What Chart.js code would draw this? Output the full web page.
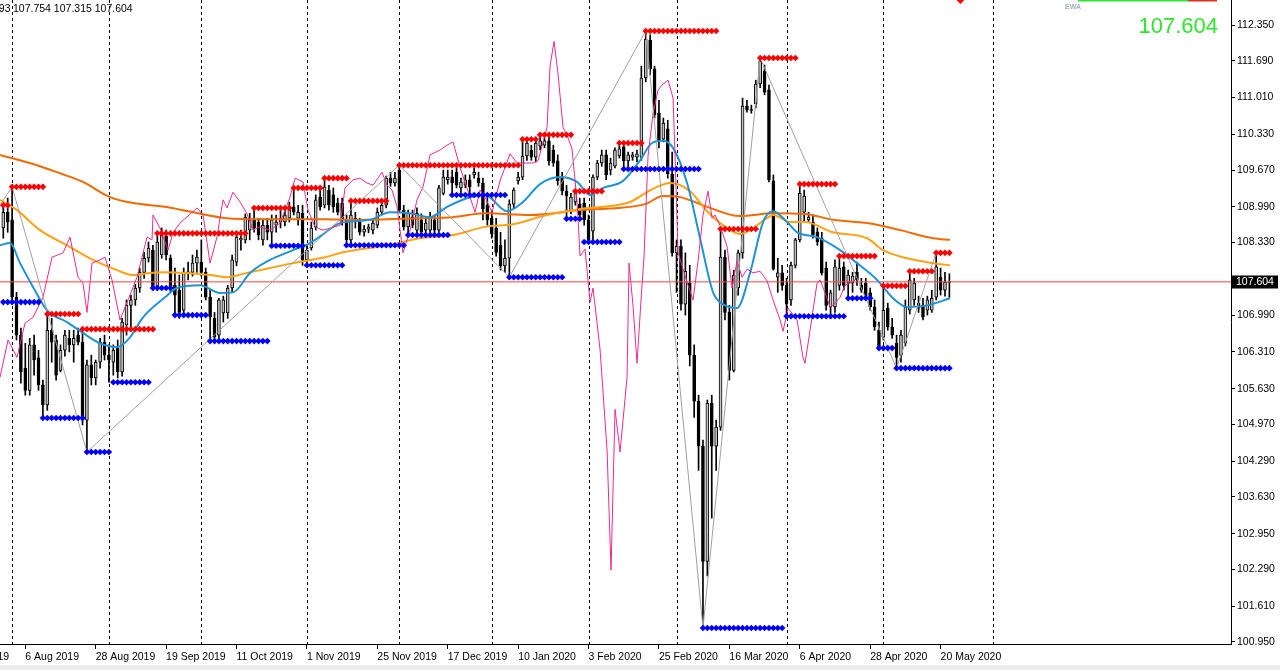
<!DOCTYPE html>
<html><head><meta charset="utf-8">
<script src="https://cdn.jsdelivr.net/npm/chart.js"></script>
<style>html,body{margin:0;padding:0;background:#fff;overflow:hidden}canvas{display:block}</style>
</head><body><canvas id="c" width="1280" height="670"></canvas>
<script>
// ---- candles (daily, bar index 0 = 30 Jul 2019 ... 215 = 22 May 2020)
const open = [
108.60,108.89,108.75,107.32,106.62,106.01,105.60,106.44,106.20,105.70,
105.33,106.71,106.53,105.97,106.34,106.56,106.44,106.62,106.49,105.05,
106.07,105.83,106.12,106.49,106.25,106.12,106.38,105.94,106.81,107.17,
107.27,107.49,107.78,108.04,108.19,107.49,108.10,108.45,108.04,107.54,
107.45,107.08,107.77,107.78,107.95,107.97,107.78,107.32,106.93,106.62,
107.03,107.03,107.49,107.97,108.38,108.38,108.56,108.75,108.71,108.38,
108.65,108.52,108.65,108.71,108.71,108.78,108.99,108.78,108.87,108.01,
108.23,108.62,109.17,109.02,109.30,109.21,109.06,109.06,108.75,108.38,
108.78,108.71,108.52,108.58,108.56,108.65,108.89,109.02,109.52,109.43,
109.67,108.93,108.62,108.80,108.56,108.75,108.56,108.56,108.75,108.56,
109.24,109.49,109.54,109.63,109.34,109.39,109.49,109.58,109.52,109.43,
109.02,108.78,108.60,108.28,107.90,108.04,109.04,109.47,109.54,109.93,
110.04,109.91,110.11,110.13,110.21,110.04,109.84,109.54,109.28,108.91,
109.08,109.04,109.06,108.75,108.54,109.54,109.80,109.95,109.67,109.74,
109.93,110.10,109.84,109.91,109.91,109.91,111.37,112.07,111.54,110.72,
110.24,110.43,109.60,108.14,108.26,107.19,107.58,106.25,105.40,104.57,
102.44,105.36,104.57,104.92,108.06,107.04,105.97,107.49,108.14,110.85,
110.78,110.89,111.26,111.50,111.15,109.47,107.69,107.77,107.54,107.27,
107.91,108.38,108.89,108.75,108.71,108.52,108.41,107.86,107.14,107.14,
107.54,107.88,107.58,107.58,107.78,107.54,107.58,107.40,107.14,106.71,
106.58,107.12,106.77,106.47,106.25,106.47,107.08,107.27,107.21,107.17,
107.08,107.08,107.32,107.69,107.45,107.593];
const high = [
109.06,109.15,109.36,107.41,106.75,106.47,106.56,106.62,106.34,105.79,
107.01,106.93,106.62,106.44,106.71,106.71,106.71,106.75,106.73,106.16,
106.25,106.16,106.56,106.62,106.44,106.44,106.53,106.93,107.27,107.36,
107.56,107.86,108.15,108.34,108.28,108.51,108.60,108.56,108.10,107.86,
107.73,107.86,107.97,108.10,108.19,108.38,107.86,107.45,107.04,107.30,
107.34,107.54,108.10,108.52,108.56,108.86,108.87,108.97,108.78,108.75,
108.78,108.84,108.84,108.93,108.97,109.08,109.34,109.02,109.02,108.28,
108.71,109.21,109.30,109.52,109.39,109.34,109.15,109.15,108.84,109.10,
108.89,108.78,108.65,108.67,108.75,108.97,109.12,109.56,109.63,109.63,
109.76,109.02,108.93,108.93,108.97,108.86,108.78,108.89,108.84,109.39,
109.67,109.67,109.67,109.71,109.52,109.58,109.58,109.71,109.63,109.52,
109.15,108.93,108.78,108.52,108.38,109.12,109.34,109.63,110.24,110.26,
110.13,110.22,110.32,110.26,110.30,110.13,109.95,109.63,109.39,109.24,
109.28,109.15,109.15,108.84,109.58,109.85,110.04,110.04,109.89,110.08,
110.17,110.19,110.00,110.00,110.04,111.59,112.24,112.17,111.59,110.96,
110.63,110.59,110.00,108.38,108.38,108.14,107.91,106.44,105.51,104.68,
105.42,105.51,105.05,108.58,108.19,107.17,107.82,108.19,111.00,110.96,
110.87,111.33,111.74,111.61,111.24,109.58,108.04,107.91,107.67,107.97,
108.41,109.41,109.30,108.89,108.84,108.60,108.52,107.97,107.45,108.01,
108.08,107.97,107.82,107.78,107.97,107.67,107.67,107.49,107.27,106.86,
107.53,107.21,106.93,106.62,106.71,107.27,107.80,107.67,107.34,107.30,
107.34,107.45,108.14,107.86,107.78,107.754];
const low = [
108.41,108.52,107.27,106.53,105.73,105.51,105.51,105.88,105.60,105.09,
105.23,106.12,105.79,105.94,106.23,106.31,106.12,106.44,104.96,104.46,
105.70,105.70,106.01,106.16,105.75,105.88,105.83,105.86,106.62,106.71,
107.17,107.41,107.67,107.97,107.45,107.45,108.04,108.01,107.41,106.99,
106.93,107.03,107.64,107.71,107.78,107.71,107.27,106.53,106.49,106.53,
106.86,106.93,107.41,107.90,108.19,108.32,108.38,108.52,108.38,108.28,
108.38,108.26,108.52,108.60,108.64,108.71,108.84,108.65,107.91,107.91,
108.19,108.56,108.93,108.97,108.93,108.89,108.84,108.65,108.28,108.32,
108.60,108.47,108.45,108.51,108.49,108.60,108.86,108.97,109.37,109.37,
108.89,108.56,108.47,108.60,108.49,108.45,108.49,108.49,108.49,108.52,
109.21,109.41,109.21,109.34,109.26,109.34,109.26,109.52,109.37,108.75,
108.65,108.41,108.08,107.82,107.78,107.69,108.97,109.41,109.49,109.85,
109.85,109.82,110.04,110.08,109.76,109.74,109.39,109.21,108.76,108.86,
109.02,108.78,108.65,108.34,108.38,109.49,109.74,109.49,109.58,109.71,
109.89,109.69,109.74,109.85,109.82,109.85,111.30,111.43,110.63,110.08,
110.19,109.52,108.08,107.41,107.08,106.99,106.05,105.10,104.12,101.21,
102.17,103.24,104.12,104.86,106.90,105.79,105.94,107.36,108.04,110.74,
110.72,110.82,111.19,111.06,109.45,107.82,107.41,107.45,106.97,107.17,
107.86,108.34,108.71,108.71,108.41,108.28,107.73,107.08,106.93,107.04,
107.45,107.45,107.30,107.41,107.54,107.41,107.27,107.08,106.71,106.38,
106.53,106.71,106.56,106.01,106.12,106.42,107.01,107.17,107.04,106.90,
106.99,107.04,107.27,107.36,107.34,107.315];
const close = [
108.89,108.71,107.32,106.62,105.94,105.60,106.44,106.16,105.70,105.33,
106.71,106.49,105.88,106.34,106.62,106.44,106.56,106.49,105.05,106.07,
105.83,106.12,106.49,106.25,106.16,106.34,105.94,106.86,107.17,107.27,
107.49,107.78,108.04,108.23,107.49,108.34,108.49,108.10,107.51,107.36,
107.04,107.77,107.78,107.95,108.06,107.78,107.32,106.95,106.58,107.27,
107.27,107.49,108.01,108.43,108.41,108.80,108.75,108.60,108.47,108.65,
108.52,108.75,108.71,108.78,108.84,108.99,108.89,108.89,108.01,108.19,
108.60,109.12,108.99,109.36,109.02,108.99,108.89,108.75,108.38,108.84,
108.71,108.52,108.58,108.62,108.69,108.89,109.02,109.52,109.43,109.52,
108.93,108.62,108.87,108.65,108.87,108.52,108.69,108.80,108.56,109.34,
109.54,109.54,109.43,109.39,109.45,109.49,109.36,109.63,109.43,108.95,
108.75,108.49,108.15,107.90,108.04,109.04,109.30,109.54,109.93,110.17,
109.91,110.17,110.21,110.21,109.84,109.80,109.47,109.28,109.19,109.17,
109.28,108.84,108.75,108.38,109.54,109.80,109.95,109.58,109.80,110.04,
110.06,109.84,109.95,109.95,109.97,111.37,112.09,111.54,110.69,110.21,
110.54,109.60,108.14,108.26,107.19,107.80,106.25,105.40,104.57,102.44,
105.36,104.57,104.92,108.06,107.04,105.97,107.73,108.14,110.85,110.78,
110.77,111.26,111.68,111.11,109.49,107.84,107.77,107.54,107.19,107.91,
108.38,109.24,109.19,108.80,108.47,108.34,107.77,107.17,107.40,107.88,
107.86,107.54,107.73,107.71,107.64,107.45,107.32,107.14,106.77,106.40,
107.08,106.77,106.62,106.21,106.62,107.14,107.64,107.58,107.12,106.95,
107.27,107.30,107.88,107.45,107.60,107.604];

// ---- axis ticks
const xTickIdx = [-11,5,21,37,53,69,85,101,117,133,149,165,181,197,213];
const xTickLabels = ["15 Jul 2019","6 Aug 2019","28 Aug 2019","19 Sep 2019","11 Oct 2019","1 Nov 2019","25 Nov 2019","17 Dec 2019","10 Jan 2020","3 Feb 2020","25 Feb 2020","16 Mar 2020","6 Apr 2020","28 Apr 2020","20 May 2020"];
const yTickVals = [112.35,111.69,111.01,110.33,109.67,108.99,108.33,106.99,106.31,105.63,104.97,104.29,103.63,102.95,102.29,101.61,100.95];
const monthStarts = [2,24,45,69,90,111,133,153,178,200,225];
const lastPrice = 107.604;

// ---- indicator lines: [bar index, price]
const slowMA = [[-0.75,109.95],[7.66,109.76],[12.89,109.61],[18.11,109.45],[24.25,109.17],[29.5,109.06],[36.75,108.99],[43.11,108.89],[50.84,108.78],[58.34,108.76],[73.11,108.76],[79.48,108.75],[94.7,108.78],[102.2,108.80],[109.48,108.87],[119.7,108.84],[131.07,108.93],[145.84,109.04],[149.93,109.19],[153.8,109.17],[159.93,108.99],[167.43,108.82],[174.93,108.87],[182.2,108.86],[188.57,108.75],[196.3,108.69],[203.8,108.56],[211.3,108.41],[215.16,108.38]];
const midMA = [[-0.75,109.12],[3.11,108.93],[8.34,108.56],[14.48,108.28],[20.39,108.01],[25.84,107.82],[29.5,107.73],[33.34,107.77],[36.75,107.78],[46.98,107.73],[50.84,107.69],[55.39,107.77],[60.61,107.86],[65.84,107.95],[73.11,108.06],[77.2,108.15],[87.2,108.28],[94.7,108.41],[102.2,108.47],[109.48,108.62],[115.84,108.67],[123.57,108.84],[131.07,108.95],[142.43,109.08],[145.84,109.24],[148.57,109.36],[151.52,109.43],[156.07,109.28],[159.93,108.91],[164.48,108.60],[167.43,108.49],[173.57,108.78],[174.93,108.84],[178.8,108.71],[182.2,108.71],[188.57,108.52],[196.3,108.41],[199.93,108.19],[205.39,108.04],[211.3,107.95],[215.16,107.91]];
const fastMA = [[-0.75,108.28],[1.52,108.32],[3.8,107.95],[6.75,107.51],[9.93,107.08],[14.48,106.86],[18.11,106.66],[21.98,106.47],[25.84,106.40],[28.8,106.58],[31.75,106.95],[36.75,107.32],[39.48,107.49],[44.7,107.54],[49.25,107.40],[52.2,107.41],[56.07,107.77],[60.61,108.01],[65.84,108.19],[69.7,108.32],[73.11,108.51],[76.52,108.69],[83.34,108.75],[87.89,108.89],[92.43,108.87],[96.98,108.80],[100.84,108.99],[105.39,109.15],[109.48,109.21],[114.48,108.91],[118.11,109.08],[121.98,109.41],[126.52,109.54],[130.39,109.45],[133.34,109.21],[136.3,109.34],[140.84,109.47],[144.7,109.85],[147.43,110.17],[149.93,110.21],[152.2,110.08],[155.39,109.43],[158.34,108.41],[161.3,107.41],[163.57,107.19],[166.75,107.12],[169.7,107.77],[172.66,108.71],[174.93,108.91],[178.11,108.71],[180.39,108.52],[184.93,108.43],[190.16,108.19],[194.02,107.95],[198.57,107.64],[202.2,107.30],[205.39,107.14],[209.93,107.17],[215.16,107.30]];
const pinkLine = [[-0.75,105.84],[1.07,106.53],[3.11,106.21],[4.93,106.84],[6.75,106.95],[9.02,107.32],[11.07,108.06],[13.57,108.14],[15.16,108.43],[16.98,107.69],[18.11,107.58],[19.02,107.04],[20.16,107.95],[21.98,108.01],[23.11,108.06],[24.7,107.64],[26.52,106.90],[28.34,107.27],[30.39,107.69],[32.66,108.43],[33.8,108.38],[34.02,108.84],[35.61,108.60],[37.43,108.19],[38.57,108.51],[40.16,108.69],[44.02,108.97],[45.39,108.84],[46.98,107.95],[48.55,108.43],[49.93,109.12],[50.84,108.97],[52.2,109.26],[53.8,109.08],[55.39,108.86],[56.75,108.56],[58.34,108.62],[60.61,108.56],[62.89,108.69],[65.16,109.17],[66.3,109.52],[68.11,109.45],[69.25,108.93],[70.84,108.62],[72.66,108.56],[76.52,108.65],[77.66,109.34],[79.48,109.49],[81.07,109.52],[82.66,109.43],[84.02,109.39],[86.07,109.63],[87.2,109.39],[88.34,109.30],[89.48,108.99],[90.84,108.14],[92.43,108.56],[94.02,109.12],[95.39,109.36],[96.98,109.95],[99.25,110.04],[100.84,110.13],[102.2,110.19],[103.8,109.72],[106.07,109.17],[107.2,108.89],[108.34,109.30],[109.48,109.17],[111.07,108.89],[112.89,109.47],[115.16,109.97],[116.75,109.80],[118.11,109.80],[120.39,109.80],[121.52,109.84],[123.57,110.46],[124.25,111.59],[125.16,112.05],[126.07,111.44],[127.2,110.46],[128.11,110.32],[129.25,110.06],[130.39,109.08],[131.07,108.08],[132.2,108.21],[133.34,107.23],[134.02,107.49],[135.61,106.36],[137.2,104.51],[138.11,102.28],[139.02,105.25],[140.16,104.46],[141.75,105.84],[142.2,107.95],[143.11,107.16],[144.02,106.10],[144.93,107.27],[145.61,108.08],[146.52,109.93],[147.66,110.72],[148.8,111.15],[149.93,111.26],[151.07,111.33],[152.2,111.00],[152.66,109.93],[153.34,108.14],[154.48,107.84],[155.61,107.54],[156.75,107.27],[157.89,107.99],[159.02,108.84],[160.16,109.28],[161.07,108.78],[161.75,108.84],[162.89,108.64],[164.48,108.26],[165.61,107.49],[166.75,107.99],[167.89,107.69],[169.02,107.84],[170.39,107.77],[171.98,107.80],[173.57,107.62],[174.93,107.27],[176.52,106.90],[177.2,106.69],[178.34,107.12],[180.39,106.90],[181.75,106.20],[182.2,106.10],[183.34,106.71],[184.93,107.58],[185.61,107.64],[186.75,107.40],[187.89,107.14],[189.02,107.21],[190.16,107.32],[191.3,107.54],[192.43,107.58],[193.57,107.64]];
const zigzag = [[-0.75,109.02],[2,109.36],[19,104.46],[90,109.76],[115,107.69],[146,112.24],[159,101.21],[172,111.74],[203,106.01],[212,108.14]];

// ---- level markers: [price, first bar, last bar]
const redLevels = [[109.02,0,1],[109.36,2,9],[107.01,10,17],[106.73,18,34],[108.50,35,55],[108.97,57,65],[109.34,66,72],[109.52,73,78],[109.10,79,87],[109.76,90,117],[110.24,118,121],[110.32,122,129],[109.28,130,136],[110.17,140,145],[112.24,146,162],[108.58,163,171],[111.74,172,180],[109.41,181,189],[108.08,190,198],[107.53,200,205],[107.80,206,211],[108.14,212,215]];
const blueLevels = [[107.23,0,8],[105.09,9,18],[104.46,19,24],[105.75,25,33],[107.49,34,38],[106.99,39,46],[106.51,47,60],[108.27,61,68],[107.91,69,77],[108.28,78,91],[108.47,92,101],[109.21,102,114],[107.69,115,127],[108.77,128,131],[108.34,132,140],[109.69,141,158],[101.21,159,177],[106.97,178,191],[107.30,192,197],[106.38,199,202],[106.01,203,215]];

const FONT = "'Liberation Sans', Arial, sans-serif";
const pts = a => a.map(p => ({x: p[0], y: p[1]}));
const segPts = segs => { const o = []; segs.forEach(s => { for (let i = s[1]; i <= s[2]; i++) o.push({x: i, y: s[0]}); }); return o; };

const wickData = close.map((c, i) => ({x: i, y: [low[i], high[i]]}));
const bodyData = close.map((c, i) => ({x: i, y: [open[i], c]}));
const bodyColors = close.map((c, i) => c >= open[i] ? '#c4c4c4' : '#000000');

const separators = {
  id: 'separators',
  beforeDatasetsDraw(chart) {
    const {ctx, chartArea: a, scales: {x}} = chart;
    ctx.save();
    ctx.strokeStyle = '#000'; ctx.lineWidth = 1; ctx.setLineDash([3, 3]);
    monthStarts.forEach(i => {
      const px = Math.round(x.getPixelForValue(i)) + 0.5;
      ctx.beginPath(); ctx.moveTo(px, a.top); ctx.lineTo(px, a.bottom); ctx.stroke();
    });
    ctx.restore();
  }
};
const overlay = {
  id: 'overlay',
  afterDraw(chart) {
    const {ctx, scales: {y}} = chart;
    ctx.save();
    ctx.font = "10.5px " + FONT; ctx.fillStyle = '#000'; ctx.textBaseline = 'middle';
    ctx.textAlign = 'right'; ctx.fillText('USDJPY,Daily  107.593', 10.5, 9);
    ctx.textAlign = 'left'; ctx.fillText('107.754 107.315 107.604', 13, 9);
    // top right
    ctx.fillStyle = '#2ee62e'; ctx.fillRect(1078, 0, 110, 1.5);
    ctx.fillStyle = '#e03020'; ctx.fillRect(1188, 0, 29, 1.5);
    ctx.font = "bold 7px " + FONT; ctx.fillStyle = '#a3b0c6'; ctx.textAlign = 'left'; ctx.textBaseline = 'middle';
    ctx.fillText('EWA', 1065, 7);
    ctx.font = "22px " + FONT; ctx.fillStyle = '#2ee62e'; ctx.textAlign = 'right'; ctx.textBaseline = 'alphabetic';
    ctx.fillText('107.604', 1218, 33);
    // current price box
    const py = y.getPixelForValue(lastPrice);
    ctx.fillStyle = '#000'; ctx.fillRect(1232, Math.round(py) - 6.5, 46, 13);
    ctx.fillStyle = '#fff'; ctx.font = "10.5px " + FONT; ctx.textAlign = 'left'; ctx.textBaseline = 'middle';
    ctx.fillText(lastPrice.toFixed(3), 1236, Math.round(py) + 0.5);
    // bottom strip
    ctx.fillStyle = '#ededed'; ctx.fillRect(0, 665, 1280, 5);
    ctx.restore();
  }
};

new Chart(document.getElementById('c'), {
  type: 'bar',
  data: {
    datasets: [
      {type: 'line', data: segPts(redLevels), showLine: false, pointStyle: 'rectRot', pointRadius: 3.3, pointBackgroundColor: '#ff0000', pointBorderWidth: 0, order: 0},
      {type: 'line', data: segPts(blueLevels), showLine: false, pointStyle: 'rectRot', pointRadius: 3.3, pointBackgroundColor: '#0000ff', pointBorderWidth: 0, order: 0},
      {type: 'line', data: [{x: 217.5, y: 112.85}], showLine: false, pointStyle: 'rectRot', pointRadius: 6, pointBackgroundColor: '#ff0000', pointBorderWidth: 0, order: 0},
      {type: 'line', data: pts(zigzag), borderColor: '#a0a0a0', borderWidth: 1, pointRadius: 0, tension: 0, order: 1},
      {type: 'line', data: pts(pinkLine), borderColor: '#ee2a8e', borderWidth: 1, pointRadius: 0, tension: 0, order: 2},
      {type: 'line', data: pts(fastMA), borderColor: '#1e93d6', borderWidth: 2, pointRadius: 0, cubicInterpolationMode: 'monotone', order: 3},
      {type: 'line', data: pts(midMA), borderColor: '#ffa214', borderWidth: 2, pointRadius: 0, cubicInterpolationMode: 'monotone', order: 4},
      {type: 'line', data: pts(slowMA), borderColor: '#f26a00', borderWidth: 2, pointRadius: 0, cubicInterpolationMode: 'monotone', order: 5},
      {type: 'line', data: [{x: -1, y: lastPrice}, {x: 280, y: lastPrice}], borderColor: '#ff4040', borderWidth: 1, pointRadius: 0, order: 6},
      {type: 'bar', data: bodyData, backgroundColor: bodyColors, borderColor: '#000', borderWidth: 1, borderSkipped: false, barThickness: 3, minBarLength: 1, grouped: false, order: 7},
      {type: 'bar', data: wickData, backgroundColor: '#000', barThickness: 1, grouped: false, order: 8}
    ]
  },
  options: {
    responsive: false, animation: false, devicePixelRatio: 1,
    layout: {padding: 0, autoPadding: false},
    plugins: {legend: {display: false}, tooltip: {enabled: false}},
    scales: {
      x: {
        type: 'linear', position: 'bottom', min: -0.75, max: 279, offset: false,
        grid: {drawOnChartArea: false, drawTicks: true, tickLength: 5, color: '#000', offset: false},
        border: {display: true, color: '#000', width: 1},
        afterBuildTicks: s => { s.ticks = xTickIdx.map(v => ({value: v})); },
        afterFit: s => { s.height = 26; s.paddingLeft = 0; s.paddingRight = 0; s.paddingTop = 0; s.paddingBottom = 0; },
        ticks: {autoSkip: false, maxRotation: 0, align: 'start', padding: 2, color: '#000', font: {family: FONT, size: 10.5},
          callback: (v, i) => xTickLabels[i]}
      },
      y: {
        type: 'linear', position: 'right', min: 100.913, max: 112.812,
        grid: {drawOnChartArea: false, drawTicks: true, tickLength: 4, color: '#000'},
        border: {display: true, color: '#000', width: 1},
        afterBuildTicks: s => { s.ticks = yTickVals.map(v => ({value: v})); },
        afterFit: s => { s.width = 49; s.paddingLeft = 0; s.paddingRight = 0; s.paddingTop = 0; s.paddingBottom = 0; },
        ticks: {padding: 2, color: '#000', font: {family: FONT, size: 10.5}, callback: v => Number(v).toFixed(3)}
      }
    }
  },
  plugins: [separators, overlay]
});
</script>
</body></html>
